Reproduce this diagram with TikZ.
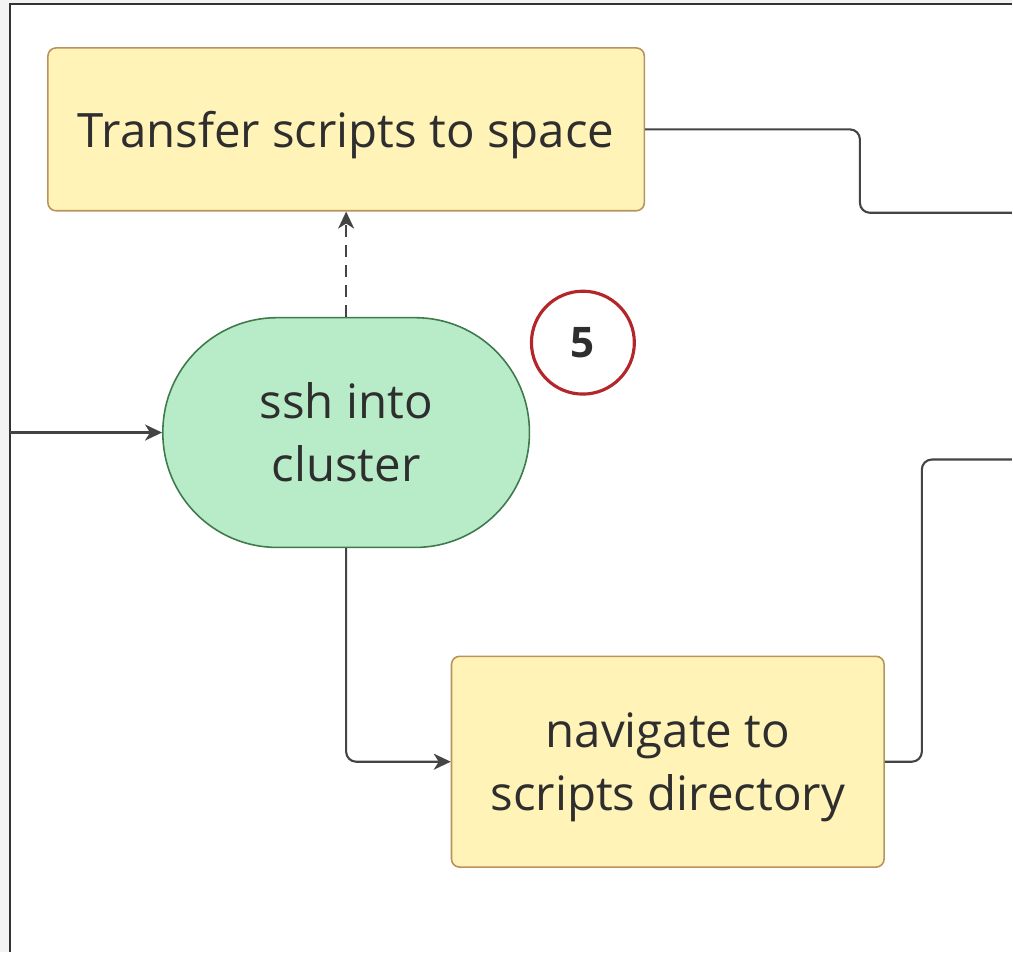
\documentclass[tikz,border=0pt]{standalone}
\usepackage{fontspec}
\setmainfont{Open Sans}
\usetikzlibrary{arrows.meta}
\definecolor{stepfill}{HTML}{FFF3B8}
\definecolor{stepline}{HTML}{B8935C}
\definecolor{termfill}{HTML}{B8ECC8}
\definecolor{termline}{HTML}{3E7A4C}
\definecolor{markred}{HTML}{B3262A}
\definecolor{wire}{HTML}{444444}
\definecolor{ink}{HTML}{2E2E2E}
\definecolor{outside}{HTML}{F3F3F3}
\begin{document}
\begin{tikzpicture}[x=0.2mm,y=-0.2mm,
	stepbox/.style={draw=stepline,fill=stepfill,line width=0.9pt,rectangle,rounded corners=1.6mm,align=center,text=ink,text depth=0pt,font=\fontsize{27}{36}\selectfont},
	termbox/.style={draw=termline,fill=termfill,line width=0.9pt,rectangle,rounded corners=22.9mm,align=center,text=ink,font=\fontsize{27}{36}\selectfont},
	marker/.style={draw=markred,line width=1.8pt,circle,fill=white,text=ink,font=\bfseries\fontsize{24}{24}\selectfont},
	link/.style={draw=wire,line width=1.2pt,rounded corners=2mm},
	tip/.style={-{Stealth[length=3.4mm,width=3.2mm,inset=1mm]}}]
	
	% page and frame
	\fill [outside] (0,0) rectangle (1013,953);
	\fill [white] (10,4) rectangle (1013,953);
	\draw [black!80,line width=1.2pt] (10,953) -- (10,4) -- (1013,4);
	\useasboundingbox (0,0) rectangle (1013,953);
	
	% nodes
	\node [stepbox,minimum width=119.4mm,minimum height=32.6mm] (transfer) at (346.5,129.5) {Transfer scripts to space};
	\node [termbox,minimum width=73.4mm,minimum height=46mm] (ssh) at (346.5,433) {ssh into\\cluster};
	\node [stepbox,minimum width=86.6mm,minimum height=42.2mm] (navigate) at (668.5,762.5) {navigate to\\scripts directory};
	\node [marker,minimum size=20.6mm,inner sep=0pt] (five) at (583.5,343) {5};
	
	\coordinate (inL) at (10,433);
	\coordinate (outA) at (1013,213);
	\coordinate (outB) at (1013,460);
	
	% connectors
	\draw [link,tip] (inL) -- (ssh.west);
	\draw [link,tip,dash pattern=on 2.4mm off 1.6mm] (ssh.north) -- (transfer.south);
	\draw [link] (transfer.east) -- ++(215,0) |- (outA);
	\draw [link,tip] (ssh.south) |- (navigate.west);
	\draw [link] (navigate.east) -- ++(37,0) |- (outB);
	
\end{tikzpicture}
\end{document}
